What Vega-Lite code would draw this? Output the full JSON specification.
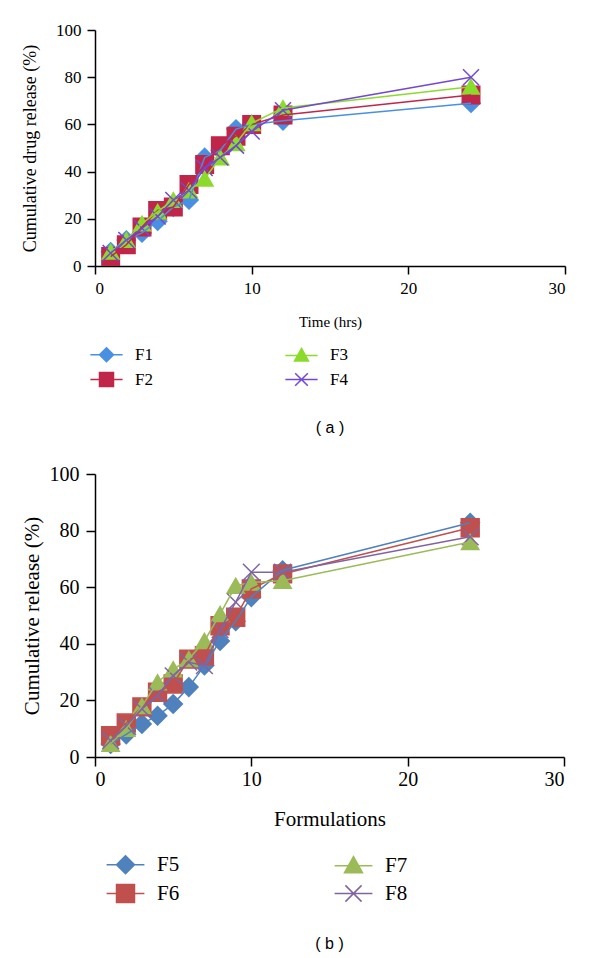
{
  "$schema": "https://vega.github.io/schema/vega-lite/v6.json",
  "padding": {"top": 21, "left": 21, "right": 5, "bottom": 5},
  "background": "white",
  "columns": 1,
  "align": "none",
  "spacing": 28,
  "datasets": {
    "a": [
      {"series": "F1", "time": 1, "release": 6},
      {"series": "F1", "time": 2, "release": 11},
      {"series": "F1", "time": 3, "release": 14},
      {"series": "F1", "time": 4, "release": 19},
      {"series": "F1", "time": 5, "release": 25},
      {"series": "F1", "time": 6, "release": 28},
      {"series": "F1", "time": 7, "release": 46},
      {"series": "F1", "time": 8, "release": 49},
      {"series": "F1", "time": 9, "release": 58},
      {"series": "F1", "time": 10, "release": 60},
      {"series": "F1", "time": 12, "release": 61.5},
      {"series": "F1", "time": 24, "release": 69},
      {"series": "F2", "time": 1, "release": 4},
      {"series": "F2", "time": 2, "release": 9},
      {"series": "F2", "time": 3, "release": 16.5},
      {"series": "F2", "time": 4, "release": 23.5},
      {"series": "F2", "time": 5, "release": 25},
      {"series": "F2", "time": 6, "release": 34.5},
      {"series": "F2", "time": 7, "release": 43},
      {"series": "F2", "time": 8, "release": 51},
      {"series": "F2", "time": 9, "release": 55},
      {"series": "F2", "time": 10, "release": 60},
      {"series": "F2", "time": 12, "release": 64},
      {"series": "F2", "time": 24, "release": 72.5},
      {"series": "F3", "time": 1, "release": 6},
      {"series": "F3", "time": 2, "release": 11},
      {"series": "F3", "time": 3, "release": 18},
      {"series": "F3", "time": 4, "release": 23},
      {"series": "F3", "time": 5, "release": 28},
      {"series": "F3", "time": 6, "release": 32},
      {"series": "F3", "time": 7, "release": 37},
      {"series": "F3", "time": 8, "release": 46},
      {"series": "F3", "time": 9, "release": 52},
      {"series": "F3", "time": 10, "release": 60.5},
      {"series": "F3", "time": 12, "release": 67},
      {"series": "F3", "time": 24, "release": 76},
      {"series": "F4", "time": 1, "release": 5.5},
      {"series": "F4", "time": 2, "release": 11},
      {"series": "F4", "time": 3, "release": 16},
      {"series": "F4", "time": 4, "release": 21},
      {"series": "F4", "time": 5, "release": 28},
      {"series": "F4", "time": 6, "release": 32},
      {"series": "F4", "time": 7, "release": 41.5},
      {"series": "F4", "time": 8, "release": 46},
      {"series": "F4", "time": 9, "release": 51},
      {"series": "F4", "time": 10, "release": 57},
      {"series": "F4", "time": 12, "release": 66},
      {"series": "F4", "time": 24, "release": 80}
    ],
    "b": [
      {"series": "F5", "time": 1, "release": 4.6},
      {"series": "F5", "time": 2, "release": 8},
      {"series": "F5", "time": 3, "release": 11.7},
      {"series": "F5", "time": 4, "release": 14.6},
      {"series": "F5", "time": 5, "release": 18.7},
      {"series": "F5", "time": 6, "release": 24.7},
      {"series": "F5", "time": 7, "release": 32.3},
      {"series": "F5", "time": 8, "release": 41},
      {"series": "F5", "time": 9, "release": 48},
      {"series": "F5", "time": 10, "release": 56.5},
      {"series": "F5", "time": 12, "release": 66},
      {"series": "F5", "time": 24, "release": 82.8},
      {"series": "F6", "time": 1, "release": 7.5},
      {"series": "F6", "time": 2, "release": 12},
      {"series": "F6", "time": 3, "release": 17.7},
      {"series": "F6", "time": 4, "release": 22.9},
      {"series": "F6", "time": 5, "release": 25.8},
      {"series": "F6", "time": 6, "release": 34.6},
      {"series": "F6", "time": 7, "release": 35.8},
      {"series": "F6", "time": 8, "release": 46.4},
      {"series": "F6", "time": 9, "release": 49.4},
      {"series": "F6", "time": 10, "release": 59.4},
      {"series": "F6", "time": 12, "release": 64.7},
      {"series": "F6", "time": 24, "release": 81},
      {"series": "F7", "time": 1, "release": 4.7},
      {"series": "F7", "time": 2, "release": 10},
      {"series": "F7", "time": 3, "release": 18},
      {"series": "F7", "time": 4, "release": 26.4},
      {"series": "F7", "time": 5, "release": 31},
      {"series": "F7", "time": 6, "release": 34.6},
      {"series": "F7", "time": 7, "release": 41},
      {"series": "F7", "time": 8, "release": 50.5},
      {"series": "F7", "time": 9, "release": 60.5},
      {"series": "F7", "time": 10, "release": 61.7},
      {"series": "F7", "time": 12, "release": 62.3},
      {"series": "F7", "time": 24, "release": 76},
      {"series": "F8", "time": 1, "release": 5.8},
      {"series": "F8", "time": 2, "release": 11},
      {"series": "F8", "time": 3, "release": 17},
      {"series": "F8", "time": 4, "release": 21.7},
      {"series": "F8", "time": 5, "release": 28.7},
      {"series": "F8", "time": 6, "release": 33.5},
      {"series": "F8", "time": 7, "release": 32.3},
      {"series": "F8", "time": 8, "release": 45},
      {"series": "F8", "time": 9, "release": 54.7},
      {"series": "F8", "time": 10, "release": 65.3},
      {"series": "F8", "time": 12, "release": 65.3},
      {"series": "F8", "time": 24, "release": 77.8}
    ]
  },
  "concat": [
    {
      "data": {"name": "a"},
      "width": 470,
      "height": 236,
      "title": {"text": "( a )", "orient": "bottom", "font": "Liberation Sans", "fontSize": 16, "fontWeight": "normal", "color": "#000", "anchor": "middle", "offset": 30},
      "encoding": {
        "x": {"field": "time", "type": "quantitative", "scale": {"domain": [0, 30], "nice": false},
          "axis": {"title": "Time (hrs)", "values": [0, 10, 20, 30], "labelFontSize": 17, "titleFontSize": 15, "tickSize": 8, "labelPadding": 6, "titlePadding": 18}},
        "y": {"field": "release", "type": "quantitative", "scale": {"domain": [0, 100], "nice": false},
          "axis": {"title": "Cumulative drug release (%)", "values": [0, 20, 40, 60, 80, 100], "labelFontSize": 17, "titleFontSize": 18, "tickSize": 8, "labelPadding": 6, "titlePadding": 16}}
      },
      "layer": [
        {
          "mark": {"type": "point", "filled": true, "opacity": 1, "strokeWidth": 1.5},
          "encoding": {
            "color": {"field": "series", "type": "nominal",
              "scale": {"domain": ["F1", "F2", "F3", "F4"], "range": ["#4A90E2", "#C0264A", "#8CDB2C", "#7446D6"]},
              "legend": {"orient": "none", "legendX": 3, "legendY": 316, "columns": 2, "title": null, "columnPadding": 129, "rowPadding": 4, "labelFontSize": 17, "labelOffset": 20, "symbolSize": 196, "symbolStrokeWidth": 1.5,
                "symbolType": {"expr": "datum.value==='F1'?'M-2.3,0H2.3M0,-1L1,0L0,1L-1,0Z':datum.value==='F2'?'M-2.3,0H2.3M-1,-1H1V1H-1Z':datum.value==='F3'?'M-2.3,0H2.3M0,-1L1,0.8H-1Z':'M-2.3,0H2.3M-0.9,-0.9L0.9,0.9M-0.9,0.9L0.9,-0.9'"},
                "symbolStrokeColor": {"expr": "datum.value==='F1'?'#4A90E2':datum.value==='F2'?'#C0264A':datum.value==='F3'?'#8CDB2C':'#7446D6'"}}},
            "shape": {"field": "series", "type": "nominal",
              "scale": {"domain": ["F4", "F3", "F2", "F1"], "range": ["M-1,-1L1,1M-1,1L1,-1", "triangle-up", "square", "diamond"]},
              "legend": null},
            "stroke": {"field": "series", "type": "nominal",
              "scale": {"domain": ["F4", "F3", "F2", "F1"], "range": ["#7446D6", "#8CDB2C", "#C0264A", "#4A90E2"]}, "legend": null},
            "size": {"field": "series", "type": "nominal",
              "scale": {"domain": ["F4", "F3", "F2", "F1"], "range": [256, 330, 380, 150]}, "legend": null}
          }
        },
        {
          "mark": {"type": "line", "strokeWidth": 1.5},
          "encoding": {
            "color": {"field": "series", "type": "nominal", "legend": null}
          }
        }
      ]
    },
    {
      "data": {"name": "b"},
      "width": 469,
      "height": 283,
      "title": {"text": "( b )", "orient": "bottom", "font": "Liberation Sans", "fontSize": 16, "fontWeight": "normal", "color": "#000", "anchor": "middle", "offset": 30},
      "encoding": {
        "x": {"field": "time", "type": "quantitative", "scale": {"domain": [0, 30], "nice": false},
          "axis": {"title": "Formulations", "values": [0, 10, 20, 30], "labelFontSize": 20, "titleFontSize": 21, "tickSize": 9, "labelPadding": 3, "titlePadding": 19}},
        "y": {"field": "release", "type": "quantitative", "scale": {"domain": [0, 100], "nice": false},
          "axis": {"title": "Cumulative release (%)", "values": [0, 20, 40, 60, 80, 100], "labelFontSize": 20, "titleFontSize": 21, "tickSize": 9, "labelPadding": 7, "titlePadding": 7}}
      },
      "layer": [
        {
          "mark": {"type": "point", "filled": true, "opacity": 1, "strokeWidth": 1.5},
          "encoding": {
            "color": {"field": "series", "type": "nominal",
              "scale": {"domain": ["F5", "F6", "F7", "F8"], "range": ["#4F81BD", "#C0504D", "#9BBB59", "#8064A2"]},
              "legend": {"orient": "none", "legendX": 20, "legendY": 380, "columns": 2, "title": null, "columnPadding": 151, "rowPadding": 4, "labelFontSize": 21, "labelOffset": 21, "symbolSize": 324, "symbolStrokeWidth": 1.5,
                "symbolType": {"expr": "datum.value==='F5'?'M-2.1,0H2.1M0,-1L1,0L0,1L-1,0Z':datum.value==='F6'?'M-2.1,0H2.1M-1,-1H1V1H-1Z':datum.value==='F7'?'M-2.1,0H2.1M0,-1L1,0.8H-1Z':'M-2.1,0H2.1M-0.9,-0.9L0.9,0.9M-0.9,0.9L0.9,-0.9'"},
                "symbolStrokeColor": {"expr": "datum.value==='F5'?'#4F81BD':datum.value==='F6'?'#C0504D':datum.value==='F7'?'#9BBB59':'#8064A2'"}}},
            "shape": {"field": "series", "type": "nominal",
              "scale": {"domain": ["F8", "F7", "F6", "F5"], "range": ["M-1,-1L1,1M-1,1L1,-1", "triangle-up", "square", "diamond"]},
              "legend": null},
            "stroke": {"field": "series", "type": "nominal",
              "scale": {"domain": ["F8", "F7", "F6", "F5"], "range": ["#8064A2", "#9BBB59", "#C0504D", "#4F81BD"]}, "legend": null},
            "size": {"field": "series", "type": "nominal",
              "scale": {"domain": ["F8", "F7", "F6", "F5"], "range": [280, 340, 330, 180]}, "legend": null}
          }
        },
        {
          "mark": {"type": "line", "strokeWidth": 1.5},
          "encoding": {
            "color": {"field": "series", "type": "nominal", "legend": null}
          }
        }
      ]
    }
  ],
  "resolve": {
    "scale": {"color": "independent", "shape": "independent", "stroke": "independent", "size": "independent"},
    "legend": {"color": "independent", "shape": "independent"}
  },
  "config": {
    "view": {"stroke": null},
    "font": "Liberation Serif",
    "axis": {"grid": false, "domainColor": "#000", "tickColor": "#000", "domainWidth": 1.5, "tickWidth": 1.5, "labelColor": "#000", "titleColor": "#000", "titleFontWeight": "normal", "labelFont": "Liberation Serif", "titleFont": "Liberation Serif"},
    "legend": {"labelFont": "Liberation Serif", "labelColor": "#000"}
  }
}
